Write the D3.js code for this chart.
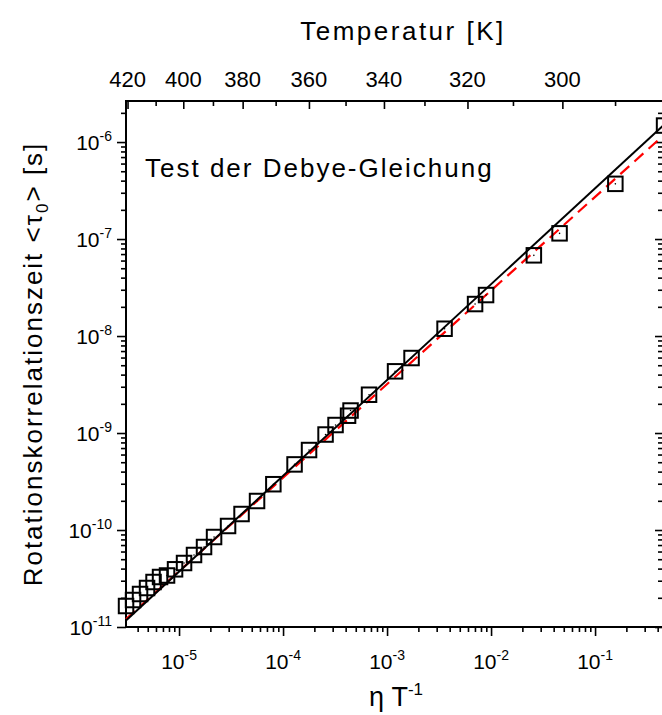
<!DOCTYPE html>
<html><head><meta charset="utf-8">
<script src="https://cdn.jsdelivr.net/npm/d3@7"></script>
<style>
body{margin:0;background:#fff}
svg{display:block}
text{font-family:"Liberation Sans",Arial,sans-serif;fill:#000}
</style>
</head><body><svg id="c" width="662" height="715"></svg>
<script>
// ---- data ----
const etaT = [3.093e-6,3.612e-6,4.217e-6,4.924e-6,5.685e-6,6.567e-6,7.665e-6,9.152e-6,1.117e-5,1.393e-5,1.739e-5,2.171e-5,2.959e-5,3.990e-5,5.623e-5,8.067e-5,1.290e-4,1.778e-4,2.563e-4,3.197e-4,4.217e-4,4.457e-4,6.712e-4,1.194e-3,1.720e-3,3.572e-3,7.019e-3,8.952e-3,2.579e-2,4.557e-2,0.1567,0.4609];
const tau0 = [1.646e-11,1.898e-11,2.189e-11,2.524e-11,2.910e-11,3.277e-11,3.396e-11,3.934e-11,4.569e-11,5.525e-11,6.680e-11,8.470e-11,1.100e-10,1.462e-10,1.991e-10,2.966e-10,4.746e-10,6.677e-10,9.649e-10,1.209e-9,1.508e-9,1.706e-9,2.482e-9,4.326e-9,5.932e-9,1.189e-8,2.137e-8,2.646e-8,6.792e-8,1.145e-7,3.708e-7,1.479e-6];
// fit lines (end points)
const solidFitX = [3.09e-6, 0.45];
const solidFitY = [1.164e-11, 1.472e-6];
const dashedFitX = [3.09e-6, 0.45];
const dashedFitY = [1.209e-11, 1.161e-6];
// top axis: temperature ticks and their eta/T position
const tempMajor = [420,400,380,360,340,320,300];
const tempMajorPos = [3.197e-6,1.098e-5,4.088e-5,1.774e-4,9.337e-4,5.932e-3,4.849e-2];
const tempMinor = [410,390,370,350,330,310,290];
const tempMinorPos = [5.957e-6,2.118e-5,8.488e-5,3.990e-4,2.289e-3,1.624e-2,0.1557];
// log axis decades
const xDecades = [-5,-4,-3,-2,-1];
const yDecades = [-11,-10,-9,-8,-7,-6];
const xDomain = [3.09e-6, 0.45];
const yDomain = [1e-11, 2.65e-6];

// ---- drawing ----
const svg = d3.select("#c");
const L=126, R=663, T=101, B=627;
const x = d3.scaleLog().domain(xDomain).range([L,R]);
const y = d3.scaleLog().domain(yDomain).range([B,T]);

function minorTicks(dom){
  const out=[];
  const lo=Math.floor(Math.log10(dom[0]))-1, hi=Math.ceil(Math.log10(dom[1]));
  for(let e=lo;e<=hi;e++) for(let m=2;m<=9;m++){const v=m*Math.pow(10,e); if(v>=dom[0]&&v<=dom[1]) out.push(v);}
  return out;
}
const xMajorV = xDecades.map(e=>Math.pow(10,e));
const yMajorV = yDecades.map(e=>Math.pow(10,e));
const xMinorV = minorTicks(xDomain);
const yMinorV = minorTicks(yDomain);

function styleAxis(g){ g.select(".domain").remove(); g.selectAll("line").attr("stroke","#000").attr("stroke-width",1.6); g.selectAll("text").remove(); }

// bottom
svg.append("g").attr("transform",`translate(0,${B})`).call(d3.axisBottom(x).tickValues(xMinorV).tickSize(5).tickFormat("")).call(styleAxis);
svg.append("g").attr("transform",`translate(0,${B})`).call(d3.axisBottom(x).tickValues(xMajorV).tickSize(9).tickFormat("")).call(styleAxis);
// left
svg.append("g").attr("transform",`translate(${L},0)`).call(d3.axisLeft(y).tickValues(yMinorV).tickSize(5).tickFormat("")).call(styleAxis);
svg.append("g").attr("transform",`translate(${L},0)`).call(d3.axisLeft(y).tickValues(yMajorV).tickSize(9).tickFormat("")).call(styleAxis);
// right (inward)
svg.append("g").attr("transform",`translate(${R},0)`).call(d3.axisLeft(y).tickValues(yMinorV).tickSize(5).tickFormat("")).call(styleAxis);
svg.append("g").attr("transform",`translate(${R},0)`).call(d3.axisLeft(y).tickValues(yMajorV).tickSize(8).tickFormat("")).call(styleAxis);
// top (inward), temperature
svg.append("g").attr("transform",`translate(0,${T})`).call(d3.axisBottom(x).tickValues(tempMinorPos).tickSize(5).tickFormat("")).call(styleAxis);
svg.append("g").attr("transform",`translate(0,${T})`).call(d3.axisBottom(x).tickValues(tempMajorPos).tickSize(8).tickFormat("")).call(styleAxis);

// frame
svg.append("rect").attr("x",L).attr("y",T).attr("width",R-L).attr("height",B-T)
  .attr("fill","none").attr("stroke","#000").attr("stroke-width",2);

// tick labels bottom
xDecades.forEach(e=>{
  const t=svg.append("text").attr("x",x(Math.pow(10,e))).attr("y",669).attr("text-anchor","middle").attr("font-size",21);
  t.append("tspan").text("10");
  t.append("tspan").attr("dy",-9).attr("font-size",14).text(String(e));
});
// tick labels left
yDecades.forEach(e=>{
  const t=svg.append("text").attr("x",112).attr("y",y(Math.pow(10,e))+8).attr("text-anchor","end").attr("font-size",21);
  t.append("tspan").text("10");
  t.append("tspan").attr("dy",-9).attr("font-size",14).text(String(e));
});
// top labels
tempMajor.forEach((tv,i)=>{
  svg.append("text").attr("x",x(tempMajorPos[i])).attr("y",87).attr("text-anchor","middle").attr("font-size",22).text(tv);
});

// titles
svg.append("text").attr("x",403).attr("y",40).attr("text-anchor","middle").attr("font-size",26).attr("letter-spacing",2.5).text("Temperatur [K]");
svg.append("text").attr("x",145).attr("y",177).attr("font-size",26).attr("letter-spacing",2).text("Test der Debye-Gleichung");
const xt = svg.append("text").attr("x",396).attr("y",706).attr("text-anchor","middle").attr("font-size",27);
xt.append("tspan").text("η T");
xt.append("tspan").attr("dy",-11).attr("font-size",17).text("-1");
const yt = svg.append("text").attr("transform","translate(42,364) rotate(-90)").attr("text-anchor","middle").attr("font-size",26).attr("letter-spacing",2);
yt.append("tspan").text("Rotationskorrelationszeit <τ");
yt.append("tspan").attr("dy",6).attr("font-size",17).text("0");
yt.append("tspan").attr("dy",-6).text("> [s]");

// fit lines
const line = d3.line().x(d=>x(d[0])).y(d=>y(d[1]));
svg.append("path").attr("d",line(dashedFitX.map((v,i)=>[v,dashedFitY[i]]))).attr("fill","none").attr("stroke","#ff0000").attr("stroke-width",2.2).attr("stroke-dasharray","12,7");
svg.append("path").attr("d",line(solidFitX.map((v,i)=>[v,solidFitY[i]]))).attr("fill","none").attr("stroke","#000").attr("stroke-width",2);

// points
const pts = etaT.map((v,i)=>[v,tau0[i]]);
const s=14.5;
svg.append("g").selectAll("rect").data(pts).join("rect")
  .attr("x",d=>x(d[0])-s/2).attr("y",d=>y(d[1])-s/2).attr("width",s).attr("height",s)
  .attr("fill","none").attr("stroke","#000").attr("stroke-width",2);
svg.append("g").selectAll("circle").data(pts).join("circle")
  .attr("cx",d=>x(d[0])).attr("cy",d=>y(d[1])).attr("r",0.8).attr("fill","#000");
</script></body></html>
